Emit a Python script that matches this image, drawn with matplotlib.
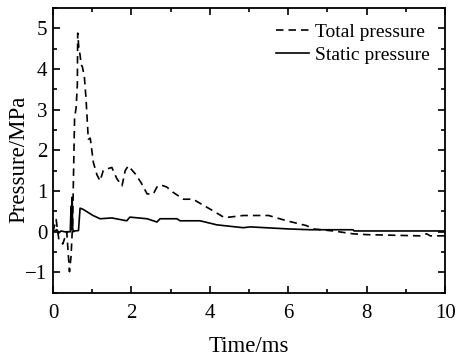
import matplotlib
matplotlib.use("Agg")
import matplotlib.pyplot as plt
from matplotlib.ticker import MultipleLocator

# Total pressure (dashed)
total_t = [0.0, 0.08, 0.15, 0.25, 0.35, 0.42, 0.46, 0.5, 0.55, 0.59, 0.62, 0.63, 0.66,
           0.69, 0.72, 0.75, 0.8, 0.84, 0.9, 0.95, 0.99, 1.03, 1.12, 1.2, 1.28, 1.4,
           1.5, 1.63, 1.76, 1.84, 1.92, 2.1, 2.25, 2.4, 2.56, 2.65, 2.75, 2.9, 3.06,
           3.33, 3.57, 4.0, 4.35, 4.5, 4.85, 5.5, 5.96, 6.47, 6.64, 7.15, 7.65, 8.0,
           9.36, 9.53, 9.62, 10.0]
total_p = [0.0, 0.3, -0.2, -0.3, 0.0, -0.98, -0.6, 0.2, 2.8, 3.05, 3.6, 4.88, 4.5,
           4.34, 4.1, 4.05, 3.8, 3.3, 2.27, 2.3, 2.0, 1.7, 1.4, 1.25, 1.5, 1.55,
           1.58, 1.3, 1.13, 1.5, 1.62, 1.42, 1.2, 0.93, 0.93, 1.1, 1.15, 1.1, 0.97,
           0.8, 0.8, 0.56, 0.36, 0.36, 0.4, 0.4, 0.27, 0.15, 0.07, 0.02, -0.05, -0.07,
           -0.1, -0.05, -0.1, -0.1]

# Static pressure (solid)
static_t = [0.0, 0.1, 0.15, 0.2, 0.3, 0.44, 0.46, 0.47, 0.49, 0.5, 0.52, 0.55, 0.65,
            0.69, 0.77, 1.02, 1.2, 1.5, 1.88, 1.96, 2.4, 2.65, 2.73, 3.16, 3.24, 3.75,
            4.18, 4.85, 5.03, 6.0, 6.56, 7.65, 7.68, 10.0]
static_p = [0.0, 0.05, -0.03, 0.02, 0.0, 0.0, 0.63, 0.05, 0.85, 0.1, 0.0, 0.02, 0.03,
            0.58, 0.55, 0.4, 0.32, 0.34, 0.27, 0.36, 0.32, 0.24, 0.32, 0.32, 0.27, 0.27,
            0.17, 0.1, 0.12, 0.07, 0.05, 0.05, 0.02, 0.02]

plt.rcParams["font.family"] = ["Liberation Serif", "DejaVu Serif"]

fig = plt.figure(figsize=(4.57, 3.58), dpi=100)
ax = fig.add_axes([0.116, 0.182, 0.858, 0.796])

ax.plot(total_t, total_p, color="black", lw=1.2, ls=(0, (4.5, 3)), label="Total pressure")
ax.plot(static_t, static_p, color="black", lw=1.2, ls="-", label="Static pressure")

ax.set_xlim(0, 10)
ax.set_ylim(-1.5, 5.5)
ax.xaxis.set_major_locator(MultipleLocator(2))
ax.xaxis.set_minor_locator(MultipleLocator(1))
ax.yaxis.set_major_locator(MultipleLocator(1))
ax.yaxis.set_minor_locator(MultipleLocator(0.5))
ax.tick_params(which="both", direction="in", top=True, right=True, labelsize=15, width=1.2)
ax.tick_params(which="major", length=5)
ax.tick_params(which="minor", length=3)
ax.tick_params(axis="x", which="major", pad=8)
ax.tick_params(axis="y", which="major", pad=4)
for s in ax.spines.values():
    s.set_linewidth(1.3)

ax.set_xlabel("Time/ms", fontsize=16.5)
ax.xaxis.set_label_coords(0.5, -0.15)
ax.set_ylabel("Pressure/MPa", fontsize=16.5)
ax.yaxis.set_label_coords(-0.06, 0.47)

ax.legend(loc="upper right", frameon=False, fontsize=14, handlelength=1.7,
          handletextpad=0.3, borderaxespad=0.4, labelspacing=0.25)

fig.savefig("out.png", dpi=100)
